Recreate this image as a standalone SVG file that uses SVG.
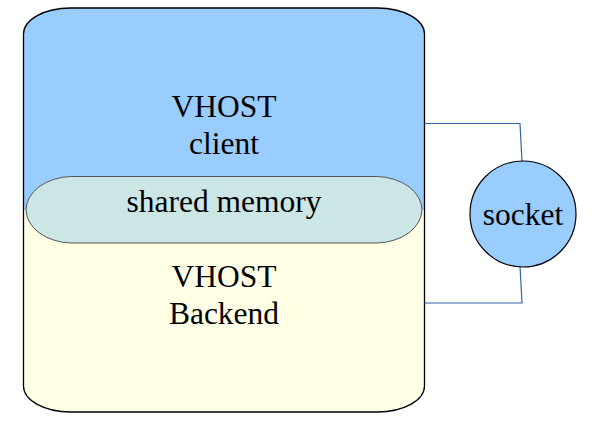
<svg xmlns="http://www.w3.org/2000/svg" width="599" height="431" viewBox="0 0 599 431">
<style>
text{font-family:"Liberation Serif","Times New Roman",serif;font-size:31.5px;fill:#000;text-anchor:middle}
.conn{fill:none;stroke:#3465a4;stroke-width:1.2}
</style>
<rect width="599" height="431" fill="#fff"/>
<g id="client">
<path d="M23.5,210 V34 A47,26 0 0 1 70.5,8 H377.5 A47,26 0 0 1 424.5,34 V210 Z" fill="#99ccff"/>
</g>
<g id="backend">
<path d="M23.5,210 H424.5 V386 A47,26 0 0 1 377.5,412 H70.5 A47,26 0 0 1 23.5,386 Z" fill="#ffffe6"/>
</g>
<path id="outline" d="M23.5,34 A47,26 0 0 1 70.5,8 H377.5 A47,26 0 0 1 424.5,34 V386 A47,26 0 0 1 377.5,412 H70.5 A47,26 0 0 1 23.5,386 Z" fill="none" stroke="#000" stroke-width="1.3"/>
<g id="shared">
<path d="M70.5,176.5 H377.5 A47,33.3 0 0 1 377.5,243 H70.5 A47,33.3 0 0 1 70.5,176.5 Z" fill="#cce5e5" stroke="#555" stroke-width="1"/>
<text x="224" y="212">shared memory</text>
</g>
<g id="labels">
<text x="224" y="117">VHOST</text>
<text x="224" y="153.5">client</text>
<text x="224" y="287">VHOST</text>
<text x="224" y="323.5">Backend</text>
</g>
<g id="connectors">
<path class="conn" d="M424.5,123.5 H520 L522,162"/>
<path class="conn" d="M424.5,303 H522 L520,266"/>
</g>
<g id="socket">
<circle cx="523" cy="214" r="53" fill="#99ccff" stroke="#000" stroke-width="1.2"/>
<text x="523" y="224.5">socket</text>
</g>
</svg>
